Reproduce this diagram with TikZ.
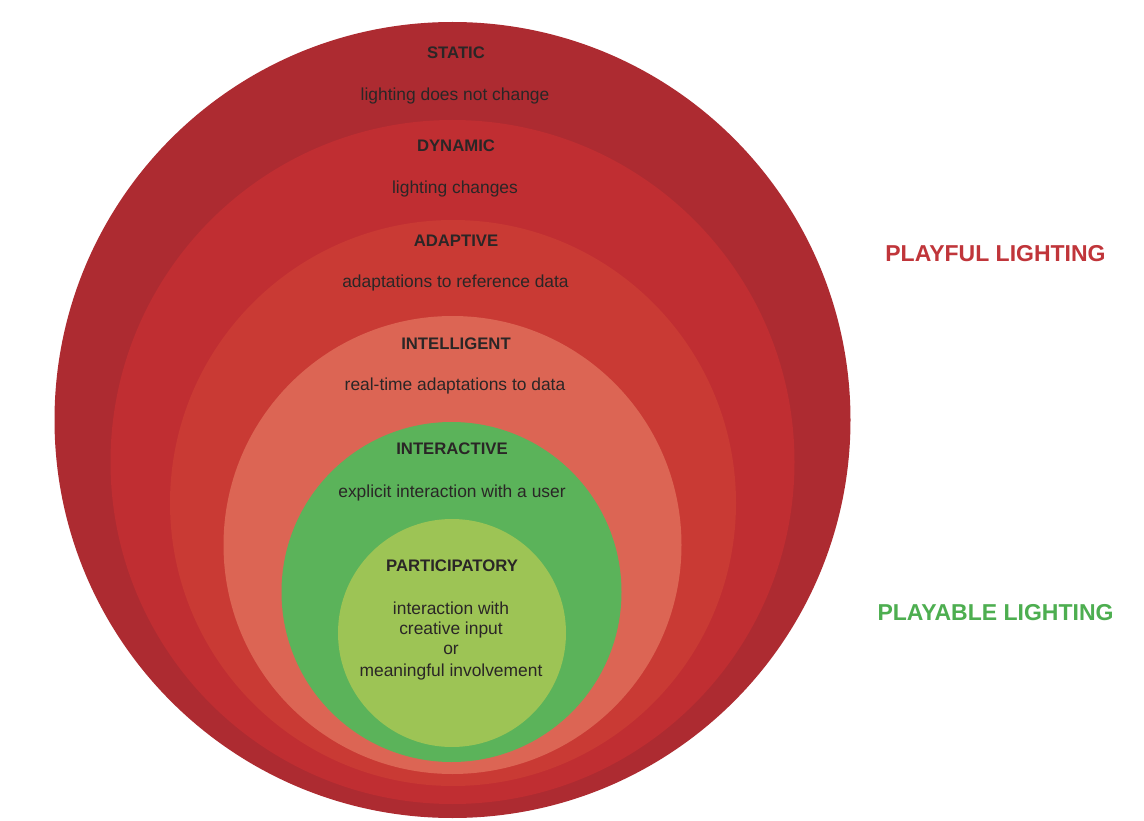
\documentclass[tikz,border=0pt]{standalone}
\usepackage{fontspec}
\setmainfont{Liberation Sans}
\definecolor{cStatic}{HTML}{AD2B31}
\definecolor{cDynamic}{HTML}{C02E32}
\definecolor{cAdaptive}{HTML}{C93A34}
\definecolor{cIntel}{HTML}{DC6554}
\definecolor{cInter}{HTML}{5BB35A}
\definecolor{cPart}{HTML}{9DC455}
\definecolor{cText}{HTML}{2A2626}
\definecolor{cPlayful}{HTML}{C0353A}
\definecolor{cPlayable}{HTML}{4DAE50}
\begin{document}
\begin{tikzpicture}[x=1pt,y=-1pt,
  ttl/.style={inner sep=0pt, text=cText, font=\fontsize{16.7}{19}\selectfont\bfseries},
  dsc/.style={inner sep=0pt, text=cText, font=\fontsize{17.4}{21}\selectfont, align=center},
  side/.style={inner sep=0pt, font=\fontsize{23}{27}\selectfont\bfseries}]
\useasboundingbox (0,0) rectangle (1144,821);
\fill[white] (0,0) rectangle (1144,821);
% circles
\coordinate (cs) at (452.5,420);
\coordinate (cd) at (452.5,462);
\coordinate (ca) at (453,503);
\coordinate (ci) at (452.5,545);
\coordinate (cx) at (451.5,592);
\coordinate (cp) at (452,633);
\fill[cStatic] (cs) circle (398);
\fill[cDynamic] (cd) circle (342);
\fill[cAdaptive] (ca) circle (283);
\fill[cIntel] (ci) circle (229);
\fill[cInter] (cx) circle (170);
\fill[cPart] (cp) circle (114);
% texts
\node[ttl] (tS) at (456,53) {STATIC};
\node[dsc] (dS) at (455,96.5) {lighting does not change};
\node[ttl] (tD) at (456,146) {DYNAMIC};
\node[dsc] (dD) at (455,189.5) {lighting changes};
\node[ttl] (tA) at (456,241) {ADAPTIVE};
\node[dsc] (dA) at (455.5,283.5) {adaptations to reference data};
\node[ttl] (tI) at (456,344) {INTELLIGENT};
\node[dsc] (dI) at (455,386.5) {real-time adaptations to data};
\node[ttl] (tX) at (452,449) {INTERACTIVE};
\node[dsc] (dX) at (452,492.5) {explicit interaction with a user};
\node[ttl] (tP) at (452,566) {PARTICIPATORY};
\node[dsc] (dP1) at (451,608.5) {interaction with};
\node[dsc] (dP2) at (451,629.5) {creative input};
\node[dsc] (dP3) at (451,649.5) {or};
\node[dsc] (dP4) at (451,671.5) {meaningful involvement};
\node[side, text=cPlayful] (playful) at (995.5,254) {PLAYFUL LIGHTING};
\node[side, text=cPlayable] (playable) at (995.5,613) {PLAYABLE LIGHTING};
\end{tikzpicture}
\end{document}
